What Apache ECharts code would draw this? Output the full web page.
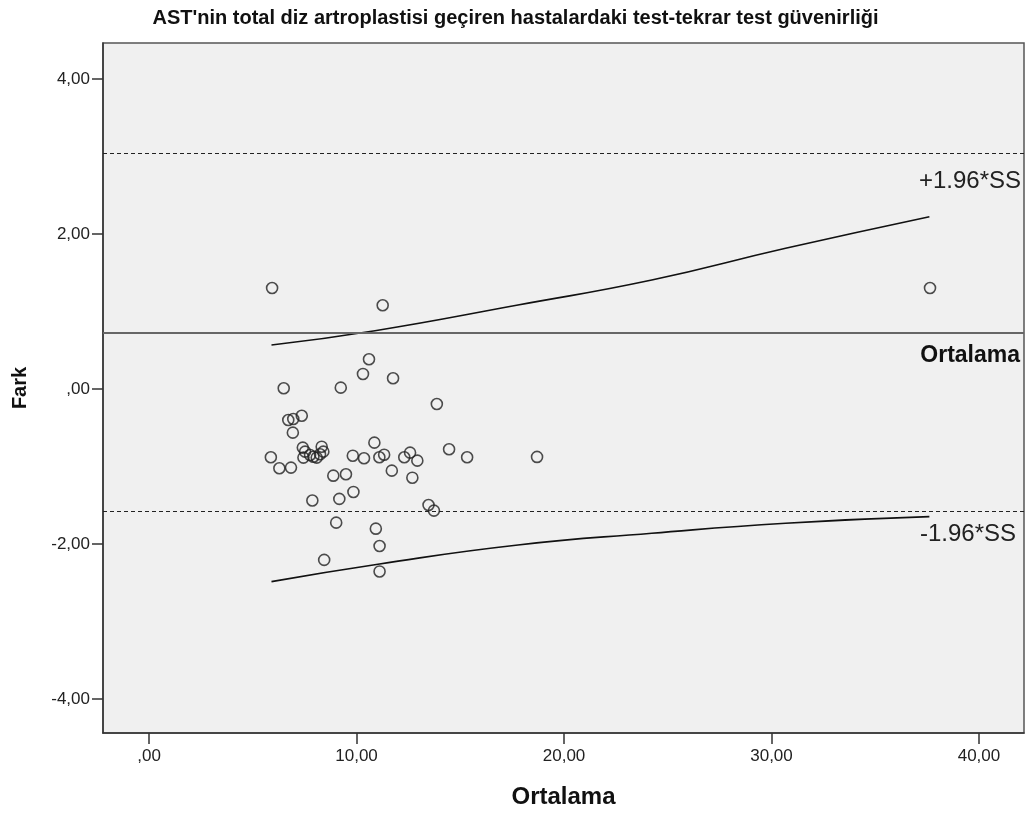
<!DOCTYPE html>
<html>
<head>
<meta charset="utf-8">
<script src="https://cdn.jsdelivr.net/npm/echarts@6/dist/echarts.min.js"></script>
<style>
html,body{margin:0;padding:0;background:#fff;}
#chart{width:1031px;height:814px;}
</style>
</head>
<body>
<div id="chart"></div>
<script>
// ---- data ----
const titleText = "AST'nin total diz artroplastisi geçiren hastalardaki test-tekrar test güvenirliği";
const xName = "Ortalama";
const yName = "Fark";

// scatter points: [ortalama, fark]
const pointsX = [6.71,6.95,7.36,6.93,5.87,6.28,6.84,7.41,7.52,7.44,7.76,7.92,8.08,8.24,8.32,8.40,9.82,10.36,10.86,11.10,11.33,12.30,12.58,12.93,14.46,15.33,11.70,12.69,8.88,9.49,7.87,9.17,9.85,13.47,13.73,9.02,10.93,11.11,8.44,11.11,5.93,11.26,10.60,10.31,11.76,6.49,9.24,13.87,37.64,18.70];
const pointsY = [-0.40,-0.387,-0.345,-0.564,-0.881,-1.023,-1.015,-0.757,-0.809,-0.886,-0.852,-0.874,-0.886,-0.843,-0.745,-0.809,-0.861,-0.894,-0.693,-0.881,-0.848,-0.881,-0.822,-0.925,-0.778,-0.881,-1.054,-1.145,-1.119,-1.101,-1.439,-1.419,-1.329,-1.497,-1.570,-1.725,-1.803,-2.026,-2.206,-2.355,1.303,1.080,0.383,0.194,0.138,0.009,0.017,-0.194,1.303,-0.877];

// reference lines
const meanDiff = 0.735;
const upperLoA = 3.042;
const lowerLoA = -1.585;

// curved lines
const upperCurveX = [5.90,10.89,17.78,24.23,30.68,37.61];
const upperCurveY = [0.568,0.752,1.084,1.406,1.815,2.223];
const lowerCurveX = [5.90,11.11,17.78,24.23,30.68,37.61];
const lowerCurveY = [-2.486,-2.258,-2.013,-1.862,-1.733,-1.648];

// axes
const xMin = -2.22, xMax = 42.17;
const yMin = -4.44, yMax = 4.465;
const xTickValues = [0,10,20,30,40];
const xTickLabels = [',00','10,00','20,00','30,00','40,00'];
const yTickValues = [-4,-2,0,2,4];
const yTickLabels = ['-4,00','-2,00',',00','2,00','4,00'];

const upperLabel = '+1.96*SS';
const meanLabel = 'Ortalama';
const lowerLabel = '-1.96*SS';

const FONT = '"Liberation Sans", Arial, sans-serif';
const zip = (a,b) => a.map((v,i)=>[v,b[i]]);

const chart = echarts.init(document.getElementById('chart'), null, {renderer:'canvas'});
const lbl = (vals, labels) => (v) => { const i = vals.findIndex(t => Math.abs(t - v) < 1e-9); return i >= 0 ? labels[i] : ''; };

chart.setOption({
  animation: false,
  backgroundColor: '#ffffff',
  title: {
    text: titleText, left: 'center', top: 3,
    textStyle: {fontFamily: FONT, fontSize: 20, fontWeight: 'bold', color: '#111'}
  },
  grid: {left: 103, right: 7, top: 43, bottom: 81, show: true, backgroundColor: '#f0f0f0', borderColor: '#555', borderWidth: 1.5},
  xAxis: {
    type: 'value', min: xMin, max: xMax,
    name: xName, nameLocation: 'middle', nameGap: 52,
    nameTextStyle: {fontFamily: FONT, fontSize: 24, fontWeight: 'bold', color: '#111'},
    axisLine: {show: true, onZero: false, lineStyle: {color: '#333', width: 1.5}},
    axisTick: {show: true, inside: false, length: 11, lineStyle: {color: '#333', width: 1.5}, customValues: xTickValues},
    axisLabel: {fontFamily: FONT, fontSize: 17, color: '#222', margin: 15, customValues: xTickValues, formatter: lbl(xTickValues, xTickLabels)},
    splitLine: {show: false}
  },
  yAxis: {
    type: 'value', min: yMin, max: yMax,
    name: yName, nameLocation: 'middle', nameGap: 73, nameRotate: 90,
    nameTextStyle: {fontFamily: FONT, fontSize: 20, fontWeight: 'bold', color: '#111'},
    axisLine: {show: true, onZero: false, lineStyle: {color: '#333', width: 1.5}},
    axisTick: {show: true, inside: false, length: 11, lineStyle: {color: '#333', width: 1.5}, customValues: yTickValues},
    axisLabel: {fontFamily: FONT, fontSize: 17, color: '#222', margin: 13, customValues: yTickValues, formatter: lbl(yTickValues, yTickLabels)},
    splitLine: {show: false}
  },
  series: [
    {
      type: 'line', data: zip(upperCurveX, upperCurveY), smooth: 0.5, symbol: 'none',
      lineStyle: {color: '#111', width: 1.6}, silent: true, z: 3
    },
    {
      type: 'line', data: zip(lowerCurveX, lowerCurveY), smooth: 0.5, symbol: 'none',
      lineStyle: {color: '#111', width: 1.6}, silent: true, z: 3
    },
    {
      type: 'scatter', data: zip(pointsX, pointsY), symbol: 'circle', symbolSize: 11,
      itemStyle: {color: 'rgba(0,0,0,0)', borderColor: '#222', borderWidth: 1.6},
      emphasis: {disabled: true}, z: 4,
      markLine: {
        silent: true, symbol: 'none', animation: false,
        data: [
          {yAxis: upperLoA, lineStyle: {type: [4,3], color: '#222', width: 1},
           label: {show: true, position: 'insideEndBottom', formatter: upperLabel, fontFamily: FONT, fontSize: 24, color: '#222', distance: [3, 16]}},
          {yAxis: meanDiff, lineStyle: {type: 'solid', color: '#666', width: 2},
           label: {show: true, position: 'insideEndBottom', formatter: meanLabel, fontFamily: FONT, fontSize: 23, fontWeight: 'bold', color: '#111', distance: [4, 12]}},
          {yAxis: lowerLoA, lineStyle: {type: [4,3], color: '#222', width: 1},
           label: {show: true, position: 'insideEndBottom', formatter: lowerLabel, fontFamily: FONT, fontSize: 24, color: '#222', distance: [8, 11]}}
        ]
      }
    }
  ]
});
</script>
</body>
</html>
